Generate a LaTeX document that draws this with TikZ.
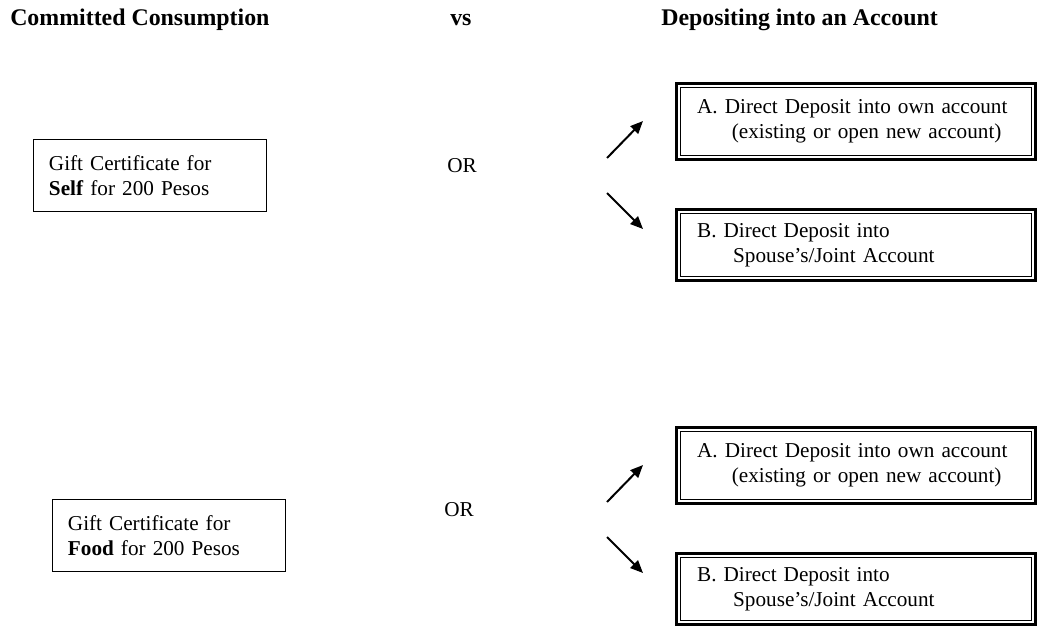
\documentclass[tikz,border=0pt]{standalone}
\usepackage{fontspec}
\setmainfont{Liberation Serif}
\usetikzlibrary{arrows.meta}

\begin{document}
\begin{tikzpicture}[x=0.75pt,y=-0.75pt,
	txt/.style={font=\fontsize{15.9}{18.75}\selectfont},
	head/.style={inner sep=0pt, anchor=base west, font=\fontsize{17.9}{21}\selectfont\bfseries},
	orlabel/.style={txt, inner sep=0pt, anchor=base west},
	giftbox/.style={txt, draw, line width=0.75pt, outer sep=0pt, anchor=north west, minimum height=54pt, text width=151.5pt, inner xsep=11.6pt, inner ysep=0pt, align=left},
	depbox/.style={txt, draw, line width=2.2pt, outer sep=0pt, anchor=north west, text width=269.2pt, inner xsep=0pt, inner ysep=0pt, align=left},
	arr/.style={-{Triangle[length=9.5pt,width=8pt]}, line width=1.5pt}]
	\useasboundingbox (0,0) rectangle (1044,628);
	
	\node[head] (hcc) at (10,26) {Committed Consumption};
	\node[head] (hvs) at (450,26) {vs};
	\node[head] (hdep) at (661,26) {Depositing into an Account};
	
	\node[giftbox] (self) at (33.5,139.5) {Gift Certificate for\\\textbf{Self} for 200 Pesos};
	\node[giftbox] (food) at (52.5,499.5) {Gift Certificate for\\\textbf{Food} for 200 Pesos};
	
	\node[orlabel] (or1) at (447,172) {OR};
	\node[orlabel] (or2) at (444,516) {OR};
	
	\node[depbox, minimum height=57pt] (a1) at (676.5,83.5) {\hspace*{15.5pt}A. Direct Deposit into own account\\\hspace*{41.5pt}(existing or open new account)};
	\node[depbox, minimum height=53pt] (b1) at (676.5,209.5) {\hspace*{15.5pt}B. Direct Deposit into\\\hspace*{42.5pt}Spouse’s/Joint Account};
	\node[depbox, minimum height=57pt] (a2) at (676.5,427.5) {\hspace*{15.5pt}A. Direct Deposit into own account\\\hspace*{41.5pt}(existing or open new account)};
	\node[depbox, minimum height=53pt] (b2) at (676.5,553.5) {\hspace*{15.5pt}B. Direct Deposit into\\\hspace*{42.5pt}Spouse’s/Joint Account};
	
	% thin inner line of the double borders
	\foreach \b in {a1,b1,a2,b2}
		\draw[line width=0.8pt] ([shift={(4,4)}]\b.north west) rectangle ([shift={(-4,-4)}]\b.south east);
	
	\foreach \n/\s/\t/\u/\v in {u1/607/158/643/121, d1/607/193/643/229, u2/607/502/643/465, d2/607/537/643/573}
	{
		\coordinate (\n s) at (\s,\t);
		\coordinate (\n e) at (\u,\v);
		\draw[arr] (\n s) -- (\n e);
	}
	
\end{tikzpicture}
\end{document}
